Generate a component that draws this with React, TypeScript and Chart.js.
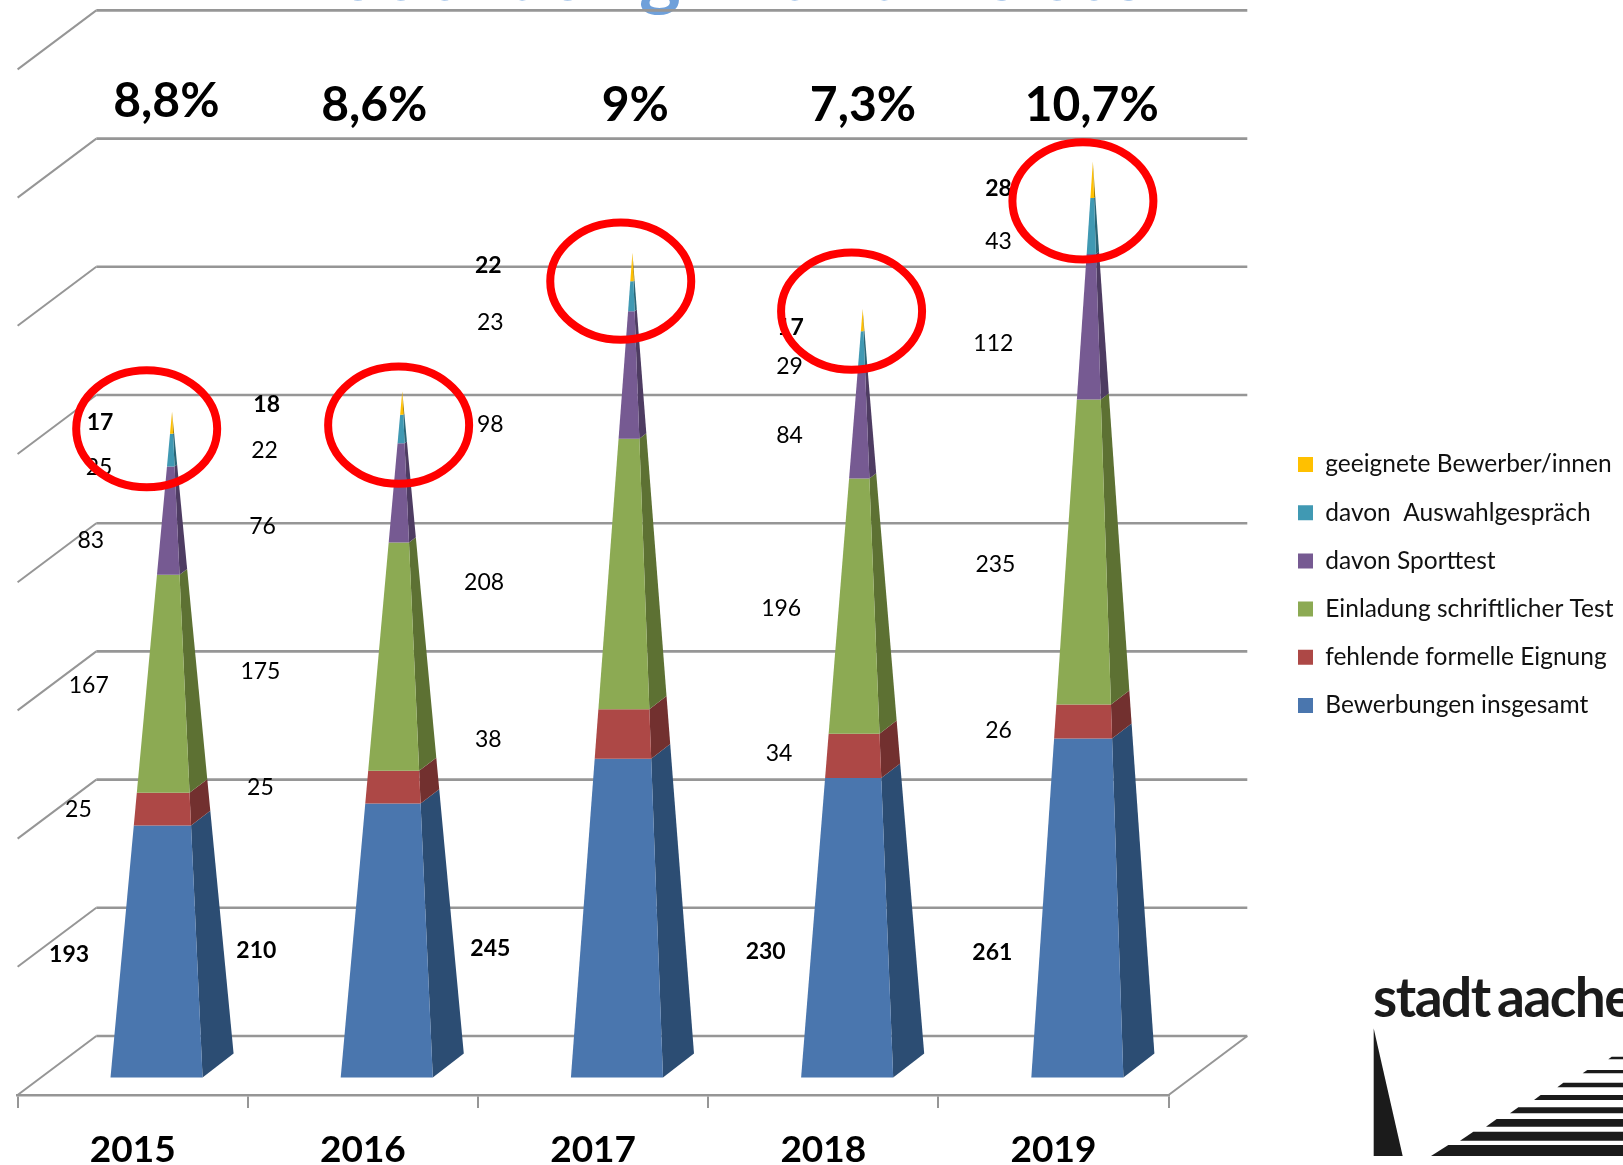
import React, { useEffect, useRef } from "react";
import { Chart, registerables } from "chart.js";

Chart.register(...registerables);

const years = ["2015", "2016", "2017", "2018", "2019"];
const bewerbungen = [193, 210, 245, 230, 261];
const fehlendeEignung = [25, 25, 38, 34, 26];
const einladungTest = [167, 175, 208, 196, 235];
const sporttest = [83, 76, 98, 84, 112];
const auswahlgespraech = [25, 22, 23, 29, 43];
const geeignete = [17, 18, 22, 17, 28];
const quoten = ["8,8%", "8,6%", "9%", "7,3%", "10,7%"];
const titleText = "Ausbildung Brandmeister";

const FONT = "Lato, Carlito, 'Open Sans', sans-serif";
const W = 1623;
const H = 1165;
const S = 1623 / 1568;
const GRID = "#969696";

// 3D projection of the chart box
const DEPTH_X = 78.7;
const DEPTH_Y = 59;
const PYR_DX = 15.5;
const PYR_DY = 11.9;

const sideColors = ["#2C4D73", "#72302F", "#5D7133", "#4E3C62", "#2A6677", "#A88000"];

// Label offsets from the pyramid axis and the segment's middle: one row per year, one pair per series
const labelOffsets = [
  [[-99.5, 12.4], [-90.5, 7.3], [-80.5, 6.1], [-78.5, 20.8], [-70.5, 17.6], [-69.5, -0.4]],
  [[-141, 18.9], [-137, 7.3], [-137, 19.1], [-135, 34.4], [-133, 21], [-131, 1.7]],
  [[-137.3, 38.6], [-139.3, 11.7], [-143.3, 12.9], [-137.3, 49.2], [-137.3, 26], [-139.3, -1.1]],
  [[-93.7, 32.3], [-80.7, 4.6], [-78.7, 6.9], [-70.7, 13.2], [-70.7, 16.1], [-69.7, 7.6]],
  [[-97.1, 52.5], [-91.1, 16], [-94.1, 17.5], [-96.1, 18.2], [-91.1, 16.1], [-91.1, 9]],
];
const rateOffsets = [[-5.5, 97], [-27, 101], [2.7, 101], [0.3, 101], [-1.1, 101]];
const circleOffsets = [[-24.5, 16.5], [-3.5, 32.9], [-11.3, 27.5], [-10.7, 2], [-9.6, 37.9]];

function poly(ctx: CanvasRenderingContext2D, pts: number[][], fill: string) {
  ctx.fillStyle = fill;
  ctx.beginPath();
  pts.forEach((p, i) => (i ? ctx.lineTo(p[0], p[1]) : ctx.moveTo(p[0], p[1])));
  ctx.closePath();
  ctx.fill();
}

function drawLogo(ctx: CanvasRenderingContext2D) {
  const ink = "#1b1b1b";
  ctx.save();
  ctx.fillStyle = ink;
  ctx.textAlign = "left";
  ctx.textBaseline = "alphabetic";
  ctx.font = `bold 55px ${FONT}`;
  (ctx as any).letterSpacing = "-1.5px";
  ctx.fillText("stadt", 1373, 1017);
  ctx.fillText("aachen", 1497, 1017);
  (ctx as any).letterSpacing = "0px";
  const mx = (v: number) => 1300 + v / 3;
  const my = (v: number) => 950 + v / 3;
  poly(ctx, [[mx(221), my(235)], [mx(308), my(618)], [mx(221), my(618)]], ink);
  const stripes = [
    [585, 618, 445, 393], [545, 572, 520, 480], [507, 530, 590, 558], [472, 490, 655, 630],
    [435, 450, 722, 702], [398, 412, 790, 772], [360, 370, 862, 848], [320, 328, 935, 925],
  ];
  stripes.forEach(([t, b, lt, lb]) =>
    poly(ctx, [[mx(lt), my(t)], [W, my(t)], [W, my(b)], [mx(lb), my(b)]], ink)
  );
  ctx.restore();
}

const pyramidPlugin = {
  id: "pyramids",
  afterLayout(chart: any) {
    const legend = chart.legend;
    if (legend) {
      const h = legend.height;
      const w = legend.width;
      legend.left = 1298 - 23.7;
      legend.right = legend.left + w;
      legend.top = 457 - 23.7 - 4.75;
      legend.bottom = legend.top + h;
      legend.adjustHitBoxes?.();
    }
    const t = chart.titleBlock;
    if (t) {
      t.left = 731 - 600;
      t.right = 731 + 600;
      t.top = -45.1;
      t.bottom = t.top + t.height;
    }
  },
  beforeDatasetsDraw(chart: any) {
    const { ctx, chartArea, scales } = chart;
    const y = scales.y;
    ctx.save();
    ctx.strokeStyle = GRID;
    // back wall lines and left wall diagonals
    y.ticks.forEach((t: any) => {
      const p = y.getPixelForValue(t.value);
      ctx.lineWidth = 2.6;
      ctx.beginPath();
      ctx.moveTo(chartArea.left + DEPTH_X, p - DEPTH_Y);
      ctx.lineTo(chartArea.right + DEPTH_X, p - DEPTH_Y);
      ctx.stroke();
      ctx.lineWidth = 2;
      ctx.beginPath();
      ctx.moveTo(chartArea.left + DEPTH_X, p - DEPTH_Y);
      ctx.lineTo(chartArea.left, p);
      ctx.stroke();
    });
    // right edge of the floor
    const zero = y.getPixelForValue(0);
    ctx.beginPath();
    ctx.moveTo(chartArea.right, zero);
    ctx.lineTo(chartArea.right + DEPTH_X, zero - DEPTH_Y);
    ctx.stroke();
    ctx.restore();
  },
  beforeDatasetDraw() {
    return false;
  },
  afterDatasetsDraw(chart: any) {
    const { ctx, scales } = chart;
    const y = scales.y;
    const zero = y.getPixelForValue(0);
    const metas = chart.data.datasets.map((_: any, i: number) => chart.getDatasetMeta(i));
    const lastMeta = metas[metas.length - 1];

    years.forEach((_, j) => {
      const apexP = lastMeta.data[j].y;
      const frac = (p: number) => (p - apexP) / (zero - apexP);
      metas.forEach((meta: any, i: number) => {
        const el = meta.data[j];
        const cx = el.x + DEPTH_X / 2;
        const hw = el.width / 2;
        const level = (p: number) => {
          const f = frac(p);
          const yc = p - DEPTH_Y / 2;
          return {
            fl: [cx - f * (hw + PYR_DX), yc + f * PYR_DY],
            fr: [cx + f * (hw - PYR_DX), yc + f * PYR_DY],
            br: [cx + f * (hw + PYR_DX), yc - f * PYR_DY],
          };
        };
        const b = level(el.base);
        const t = level(el.y);
        poly(ctx, [b.fr, b.br, t.br, t.fr], sideColors[i]);
        poly(ctx, [b.fl, b.fr, t.fr, t.fl], chart.data.datasets[i].backgroundColor);
      });
    });

    // value labels
    ctx.save();
    ctx.textAlign = "center";
    ctx.textBaseline = "middle";
    ctx.fillStyle = "#000";
    metas.forEach((meta: any, i: number) => {
      const bold = i === 0 || i === metas.length - 1;
      ctx.font = `${bold ? "bold " : ""}23px ${FONT}`;
      years.forEach((_, j) => {
        const el = meta.data[j];
        const [dx, dy] = labelOffsets[j][i];
        const mid = (el.y + el.base) / 2 - DEPTH_Y / 2;
        ctx.fillText(String(chart.data.datasets[i].data[j]), el.x + DEPTH_X / 2 + dx * S, mid + dy * S);
      });
    });

    // quota row above the pyramids
    ctx.font = `bold 48px ${FONT}`;
    const wall700 = y.getPixelForValue(700) - DEPTH_Y;
    quoten.forEach((q, j) => {
      const el = lastMeta.data[j];
      const [dx, row] = rateOffsets[j];
      ctx.fillText(q, el.x + DEPTH_X / 2 + dx * S, wall700 + (row - 133) * S);
    });

    // red highlight circles around each apex
    ctx.strokeStyle = "#FF0000";
    ctx.lineWidth = 8;
    years.forEach((_, j) => {
      const el = lastMeta.data[j];
      const [dx, dy] = circleOffsets[j];
      ctx.beginPath();
      ctx.ellipse(
        el.x + DEPTH_X / 2 + dx * S,
        el.y - DEPTH_Y / 2 + dy * S,
        70.5,
        58.6,
        0,
        0,
        Math.PI * 2
      );
      ctx.stroke();
    });
    ctx.restore();

    drawLogo(ctx);
  },
};

export default function App() {
  const ref = useRef<HTMLCanvasElement>(null);
  useEffect(() => {
    document.body.style.margin = "0";
    document.body.style.background = "#fff";
    const series = [
      ["Bewerbungen insgesamt", bewerbungen, "#4A76AE"],
      ["fehlende formelle Eignung", fehlendeEignung, "#AD4846"],
      ["Einladung schriftlicher Test", einladungTest, "#8CAA53"],
      ["davon Sporttest", sporttest, "#765A92"],
      ["davon  Auswahlgespräch", auswahlgespraech, "#4099B3"],
      ["geeignete Bewerber/innen", geeignete, "#FFC000"],
    ] as const;
    const chart = new Chart(ref.current as HTMLCanvasElement, {
      type: "bar",
      data: {
        labels: years,
        datasets: series.map(([label, data, color]) => ({
          label,
          data: [...data],
          backgroundColor: color,
          borderWidth: 0,
          barPercentage: 0.4,
          categoryPercentage: 1,
        })),
      },
      options: {
        animation: false,
        responsive: false,
        devicePixelRatio: 1,
        events: [],
        layout: { padding: { left: 17.6, right: W - 1168.6, top: 29.65, bottom: 0 } },
        scales: {
          x: {
            stacked: true,
            afterFit: (s: any) => {
              s.height = H - 1095;
            },
            grid: { drawOnChartArea: false, drawTicks: true, tickLength: 13, color: GRID, lineWidth: 2 },
            border: { color: GRID, width: 2.6 },
            ticks: {
              color: "#000",
              padding: 19.8,
              maxRotation: 0,
              autoSkip: false,
              font: { family: FONT, size: 37, weight: "bold" },
            },
          },
          y: {
            stacked: true,
            display: false,
            min: 0,
            max: 800,
            ticks: { stepSize: 100 },
          },
        },
        plugins: {
          tooltip: { enabled: false },
          title: {
            display: true,
            text: titleText,
            color: "#6FA0DA",
            padding: 0,
            font: { family: FONT, size: 79.5, weight: "bold", lineHeight: 0.5 },
          },
          legend: {
            position: "chartArea",
            align: "start",
            reverse: true,
            labels: {
              boxWidth: 15,
              boxHeight: 15,
              padding: 23.7,
              color: "#111",
              font: { family: FONT, size: 24.5 },
            },
          },
        },
      } as any,
      plugins: [pyramidPlugin as any],
    });
    return () => chart.destroy();
  }, []);
  return (
    <canvas
      ref={ref}
      width={W}
      height={H}
      style={{ position: "fixed", left: 0, top: 0, width: W, height: H, display: "block" }}
    />
  );
}
